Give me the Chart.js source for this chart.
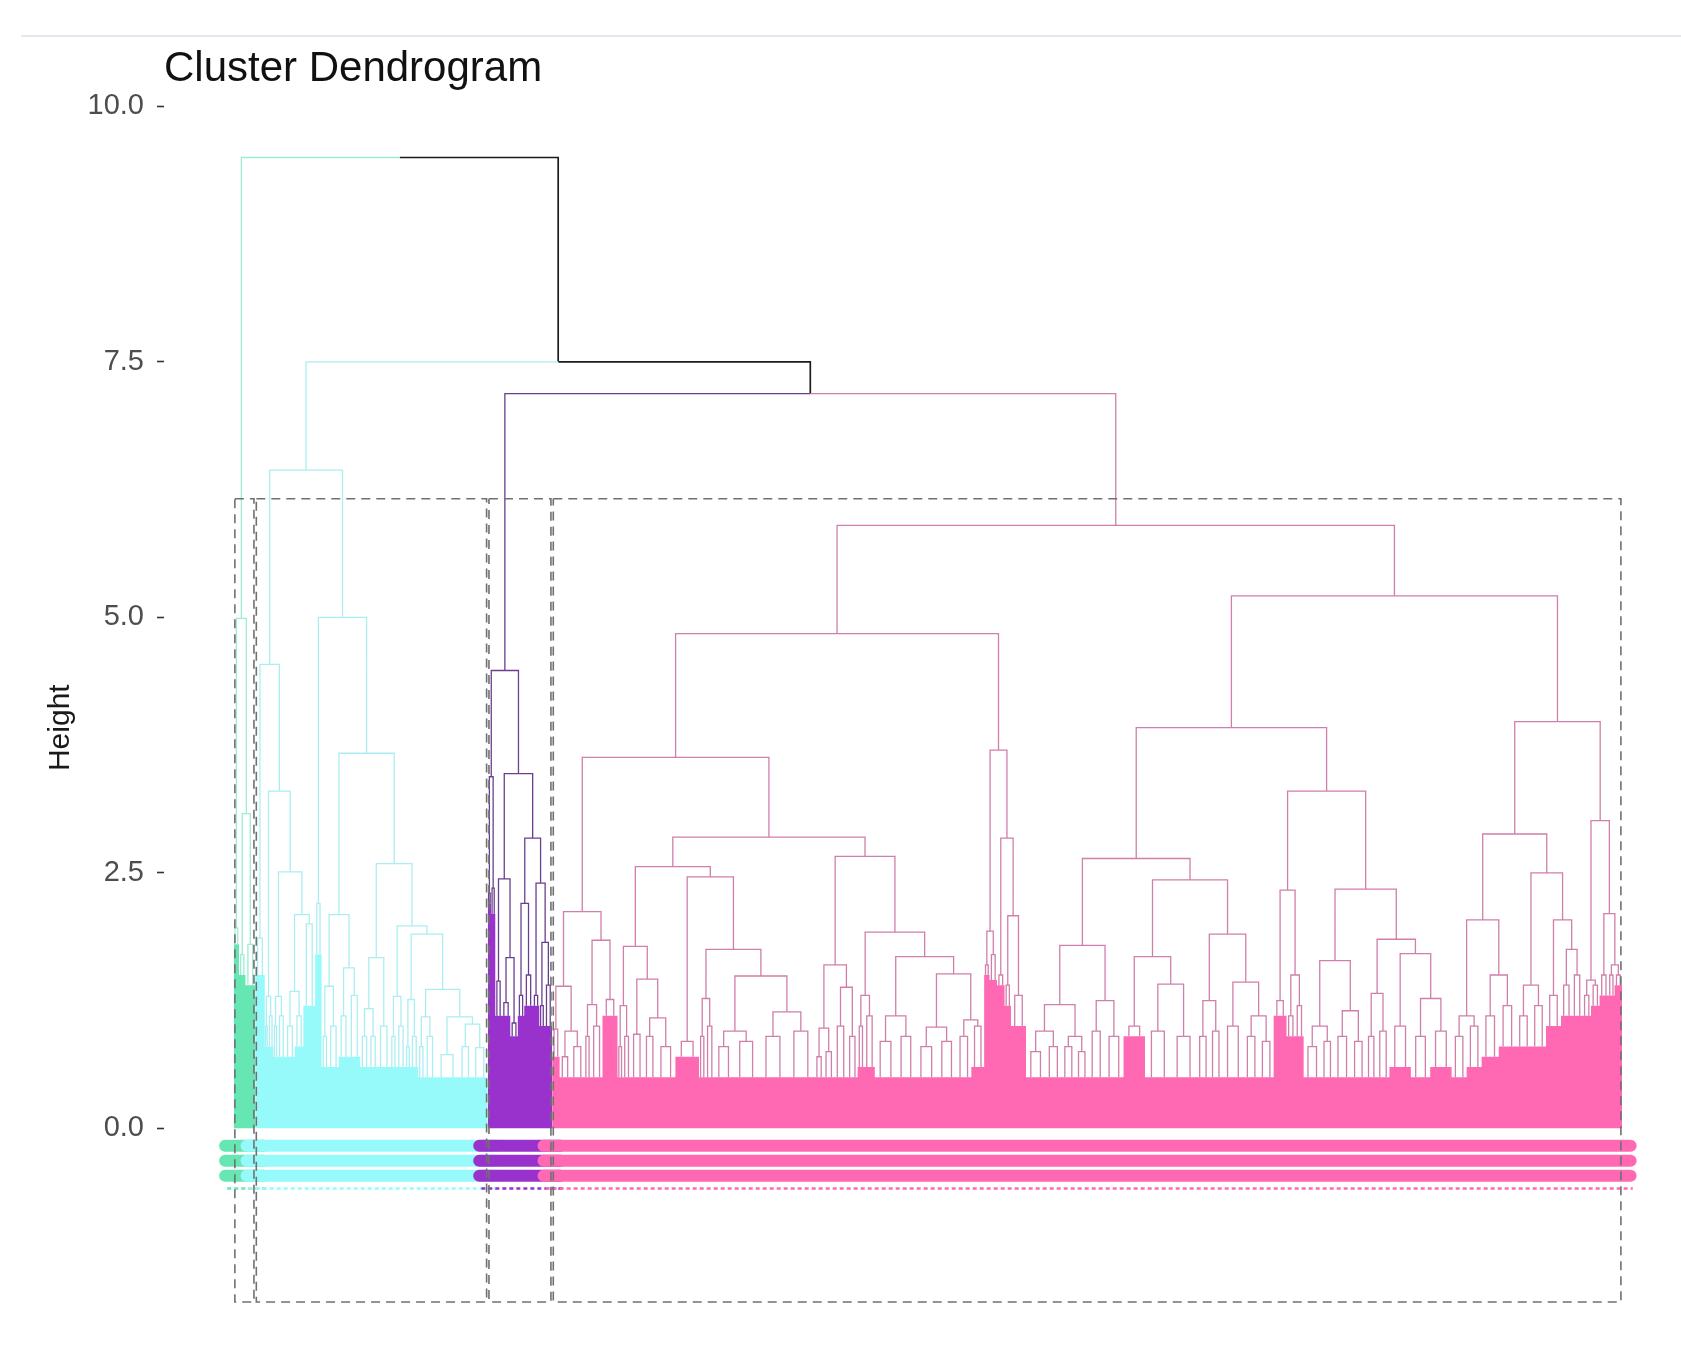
<!DOCTYPE html>
<html>
<head>
<meta charset="utf-8">
<script src="https://cdn.jsdelivr.net/npm/chart.js@4.4.1/dist/chart.umd.min.js"></script>
<style>
  body { margin: 0; background: #fff; }
  #wrap { position: relative; width: 1681px; height: 1362px; }
  #rule { position: absolute; top: 35px; left: 21px; right: 0; border-top: 2px solid #e3e8ee; }
</style>
</head>
<body>
<div id="wrap">
  <div id="rule"></div>
  <canvas id="dend"></canvas>
</div>
<script>
// merge node = [height, left, right]; leaf group = [leafCount, topHeight, solidHeight]
const clusterNames = ["mint", "cyan", "purple", "pink"];
const upperTree = [9.50, "mint", [7.50, "cyan", [7.19, "purple", "pink"]]];

const mintTree = [4.99, [5, 1.96, 1.8], [3.08, [6, 1.7, 1.5], [9, 1.8, 1.4]]];

const cyanTree = [6.44,
  [4.54, [9, 1.86, 1.5],
    [3.30, [1.29, [3, 1.0, 0.8], [5, 1.1, 0.8]],
      [2.51, [1.29, [4, 1.0, 0.7], [7, 1.1, 0.7]],
        [2.09, [1.34, [9, 1.0, 0.7], [8, 1.1, 0.8]], [11, 2.0, 1.2]]]]],
  [5.00, [6, 2.2, 1.7],
    [3.67,
      [2.09, [1.39, [6, 0.9, 0.6], [10, 1.0, 0.6]], [1.57, [9, 1.1, 0.7], [11, 1.3, 0.7]]],
      [2.59,
        [1.67, [1.17, [8, 0.9, 0.6], [8, 0.9, 0.6]], [12, 1.0, 0.6]],
        [1.98, [1.29, [6, 0.9, 0.6], [8, 1.0, 0.6]],
          [1.90, [1.26, [5, 0.8, 0.6], [7, 0.9, 0.6]],
            [1.36, [1.09, [6, 0.8, 0.5], [10, 0.9, 0.5]],
              [1.09, [22, 0.72, 0.5], [1.02, [12, 0.8, 0.5], [15, 0.79, 0.5]]]]]]]]]];

const purpleTree = [4.48,
  [3.44, [3, 2.3, 2.2], [4, 2.35, 2.1]],
  [3.47,
    [2.44, [6, 1.44, 1.1], [1.67, [8, 1.23, 1.1], [7, 1.03, 0.9]]],
    [2.84, [2.2, [6, 1.3, 1.1], [8, 1.5, 1.2]], [2.4, [6, 1.3, 1.2], [1.82, [5, 1.2, 1.0], [7, 1.4, 1.0]]]]]];

const pinkLeftTree = [4.84,
  [3.63,
    [2.12,
      [1.39, [7, 0.97, 0.7], [0.95, [10, 0.7, 0.5], [13, 0.8, 0.5]]],
      [1.84, [1.21, [6, 0.9, 0.5], [11, 1.0, 0.5]], [14, 1.26, 1.1]]],
    [2.85,
      [2.56,
        [1.78, [1.2, [5, 0.8, 0.5], [7, 0.9, 0.5]], [1.46, [12, 0.92, 0.5], [1.08, [12, 0.9, 0.5], [18, 0.8, 0.5]]]],
        [2.46, [22, 0.85, 0.7],
          [1.75, [1.27, [6, 0.9, 0.5], [8, 1.0, 0.5]],
            [1.49, [0.95, [18, 0.8, 0.5], [24, 0.85, 0.5]], [1.14, [26, 0.9, 0.5], [26, 0.95, 0.5]]]]]],
      [2.66,
        [1.6, [0.98, [8, 0.7, 0.5], [10, 0.75, 0.5]], [1.38, [12, 1.0, 0.5], [10, 0.9, 0.5]]],
        [1.92, [1.3, [6, 1.0, 0.6], [10, 1.1, 0.6]],
          [1.68, [1.1, [20, 0.85, 0.5], [18, 0.9, 0.5]],
            [1.51, [0.99, [20, 0.8, 0.5], [18, 0.85, 0.5]], [1.06, [14, 0.9, 0.5], [12, 1.0, 0.6]]]]]]]],
  [3.70, [1.93, [5, 1.6, 1.5], [7, 1.7, 1.45]], [2.84, [7, 1.5, 1.4], [2.08, [6, 1.4, 1.2], [14, 1.3, 1.0]]]]];

const pinkRightTree = [5.21,
  [3.92,
    [2.64,
      [1.79, [1.21, [0.95, [18, 0.75, 0.5], [15, 0.8, 0.5]], [0.9, [13, 0.8, 0.5], [12, 0.75, 0.5]]],
        [1.25, [15, 0.95, 0.5], [18, 0.9, 0.5]]],
      [2.43, [1.68, [20, 1.0, 0.9], [1.41, [24, 0.95, 0.5], [24, 0.9, 0.5]]],
        [1.90, [1.25, [12, 0.9, 0.5], [12, 0.95, 0.5]], [1.43, [20, 1.0, 0.5], [1.1, [14, 0.9, 0.5], [14, 0.85, 0.5]]]]]],
    [3.30,
      [2.33, [12, 1.25, 1.1], [1.5, [8, 1.1, 0.9], [8, 1.2, 0.9]]],
      [2.34, [1.64, [1.0, [16, 0.8, 0.5], [12, 0.85, 0.5]], [1.15, [16, 0.9, 0.5], [14, 0.85, 0.5]]],
        [1.85, [1.32, [10, 0.9, 0.5], [12, 0.95, 0.5]], [1.71, [20, 1.0, 0.6], [1.27, [18, 0.9, 0.5], [20, 0.95, 0.6]]]]]]],
  [3.98,
    [2.88, [2.04, [1.1, [14, 0.9, 0.5], [14, 1.0, 0.6]], [1.5, [16, 1.1, 0.7], [16, 1.2, 0.8]]],
      [2.50, [1.4, [14, 1.1, 0.8], [14, 1.2, 0.8]], [2.04, [14, 1.3, 1.0], [1.75, [10, 1.4, 1.1], [10, 1.5, 1.1]]]]],
    [3.01, [1.45, [8, 1.3, 1.1], [8, 1.4, 1.2]], [2.1, [8, 1.5, 1.3], [1.6, [6, 1.5, 1.3], [7, 1.5, 1.4]]]]]];

const pinkTree = [5.90, pinkLeftTree, pinkRightTree];

const yTicks = [0, 2.5, 5, 7.5, 10];
const rectTop = 6.16;
const rectBottom = -1.70;

const trees = { mint: mintTree, cyan: cyanTree, purple: purpleTree, pink: pinkTree };
const lineColor = { mint: "#9FEBD6", cyan: "#ABEEF2", purple: "#6A3F8F", pink: "#CF7FA9", upper: "#1c1c1c" };
const fillColor = { mint: "#66E6B3", cyan: "#97FAFA", purple: "#9932CC", pink: "#FF69B4" };
const font = "'Liberation Sans', Arial, sans-serif";

// lay the leaves out left to right, each merge sits midway over its two children
const groups = [];
const spans = {};
let cursor = 0;
function layout(node, cluster) {
  if (typeof node === "string") {
    const s = cursor;
    const t = layout(trees[node], node);
    spans[node] = [s, cursor];
    return t;
  }
  if (typeof node[1] === "number") {
    const [n, top, base] = node;
    const g = { s: cursor, e: cursor + n, n, top, base, cluster, x: cursor + n / 2 };
    cursor += n;
    groups.push(g);
    return g;
  }
  const kids = [layout(node[1], cluster), layout(node[2], cluster)];
  return { x: (kids[0].x + kids[1].x) / 2, top: node[0], kids, cluster };
}
const root = layout(upperTree, null);

const segs = { mint: [], cyan: [], purple: [], pink: [], upper: [] };
function add(key, pts) {
  pts.forEach(p => segs[key].push({ x: p[0], y: p[1] }));
  segs[key].push({ x: pts[0][0], y: null });
}
function walk(nd) {
  if (nd.kids) {
    nd.kids.forEach(k => {
      add(k.cluster || "upper", [[nd.x, nd.top], [k.x, nd.top], [k.x, k.top]]);
      walk(k);
    });
  } else {
    const q = nd.n / 4;
    add(nd.cluster, [[nd.x - q, nd.base], [nd.x - q, nd.top], [nd.x + q, nd.top], [nd.x + q, nd.base]]);
  }
}
walk(root);

const datasets = [];

// solid mass of leaves near the bottom
clusterNames.forEach(c => {
  datasets.push({
    data: groups.filter(g => g.cluster === c).flatMap(g => [{ x: g.s, y: g.base }, { x: g.e, y: g.base }]),
    fill: "origin", backgroundColor: fillColor[c], borderWidth: 0, pointRadius: 0, order: 6
  });
});

Object.keys(segs).forEach(k => {
  datasets.push({
    data: segs[k], borderColor: lineColor[k], borderWidth: k === "upper" ? 1.7 : 1.3,
    pointRadius: 0, fill: false, spanGaps: false, order: 5
  });
});

// leaf label band
const stripeRows = [-0.17, -0.317, -0.464];
clusterNames.forEach((c, i) => {
  const [s, e] = spans[c];
  datasets.push({
    data: stripeRows.flatMap(r => [{ x: s - 8, y: r }, { x: e + 8, y: r }, { x: e + 8, y: null }]),
    borderColor: fillColor[c], borderWidth: 12, borderCapStyle: "round",
    pointRadius: 0, fill: false, order: 3 - i * 0.1
  });
  datasets.push({
    data: [{ x: s - 6, y: -0.59 }, { x: e + 10, y: -0.59 }],
    borderColor: fillColor[c], borderWidth: 2.5, borderDash: [4, 3],
    pointRadius: 0, fill: false, order: 3 - i * 0.1
  });
});

// cluster boxes
const rectPts = [];
clusterNames.forEach(c => {
  const l = spans[c][0] + 1.1, r = spans[c][1] - 1.1;
  [[l, rectTop], [r, rectTop], [r, rectBottom], [l, rectBottom], [l, rectTop]].forEach(p => rectPts.push({ x: p[0], y: p[1] }));
  rectPts.push({ x: l, y: null });
});
datasets.push({
  data: rectPts, borderColor: "#707070", borderWidth: 1.6, borderDash: [9, 6],
  pointRadius: 0, fill: false, order: 1
});

new Chart(document.getElementById("dend"), {
  type: "line",
  data: { datasets },
  options: {
    responsive: true,
    maintainAspectRatio: false,
    animation: false,
    events: [],
    layout: { padding: { left: 30, right: 20, top: 0, bottom: 13 } },
    plugins: {
      legend: { display: false },
      tooltip: { enabled: false },
      title: {
        display: true, text: "Cluster Dendrogram", align: "start", fullSize: false,
        color: "#111", font: { size: 42, family: font, weight: "normal" },
        padding: { top: 44, bottom: 12 }
      }
    },
    scales: {
      x: { type: "linear", display: false, min: -65, max: 1331.3 },
      y: {
        type: "linear", min: -2.16, max: 10,
        afterBuildTicks: s => { s.ticks = yTicks.map(v => ({ value: v })); },
        afterFit: s => { s.width = 134; s.paddingTop = 0; s.paddingBottom = 0; },
        border: { display: false },
        grid: { drawOnChartArea: false, drawTicks: true, tickLength: 7, tickColor: "#333", tickWidth: 1.6 },
        ticks: { padding: 13, color: "#4d4d4d", font: { size: 29, family: font }, callback: v => v.toFixed(1) },
        title: { display: true, text: "Height", color: "#1a1a1a", font: { size: 30, family: font }, padding: { top: 13, bottom: 0 } }
      }
    }
  }
});
</script>
</body>
</html>
